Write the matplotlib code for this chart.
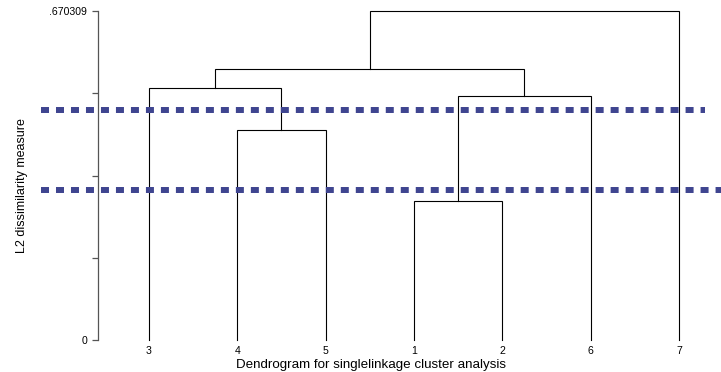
import matplotlib
matplotlib.use("Agg")
import matplotlib.pyplot as plt
import matplotlib.transforms as mtrans
from matplotlib.transforms import blended_transform_factory

plt.rcParams['font.family'] = ['Liberation Sans', 'DejaVu Sans']

# Leaf order as drawn
leaf_labels = ['3', '4', '5', '1', '2', '6', '7']
# Merges: (left node, right node, height); merge k is referred to as "m<k>"
merges = [
    ('4', '5', 0.4279),
    ('3', 'm0', 0.5134),
    ('1', '2', 0.2832),
    ('m2', '6', 0.4971),
    ('m1', 'm3', 0.5521),
    ('m4', '7', 0.670309),
]
cut_levels = [0.4686, 0.3056]
y_max = 0.670309

W, H = 721, 372
fig = plt.figure(figsize=(W / 100, H / 100), dpi=100)
ax = fig.add_axes([98 / W, 32 / H, (W - 98) / W, (340 - 11) / H])

pos = {lab: i + 1 for i, lab in enumerate(leaf_labels)}
hgt = {lab: 0.0 for lab in leaf_labels}
for k, (a, b, h) in enumerate(merges):
    xa, xb = pos[a], pos[b]
    ax.plot([xa, xa, xb, xb], [hgt[a], h, h, hgt[b]], color='black', lw=0.8,
            solid_joinstyle='miter', clip_on=False)
    name = 'm%d' % k
    pos[name] = (xa + xb) / 2
    hgt[name] = h

ax.set_xlim(1 - 51 / 88.33, 1 - 51 / 88.33 + 623 / 88.33)
ax.set_ylim(0, y_max)

# Cut lines (extend beyond the axes, x in figure pixels)
tr = blended_transform_factory(mtrans.Affine2D().scale(1 / W, 1) + fig.transFigure, ax.transData)
for lvl, xend in zip(cut_levels, [705, 724]):
    ax.plot([41, xend], [lvl, lvl], transform=tr, color='#3f4590', lw=4.3,
            dashes=(1.34, 1.17), clip_on=False, dash_capstyle='butt')

for s in ['top', 'right', 'bottom']:
    ax.spines[s].set_visible(False)
ax.spines['left'].set_color('#555555')
ax.spines['left'].set_linewidth(0.9)

yt = [i * y_max / 4 for i in range(5)]
ax.set_yticks(yt)
ax.set_yticklabels(['0', '', '', '', '.670309'], fontsize=7.6)
ax.tick_params(axis='y', length=4.3, width=0.9, color='#555555', pad=3.6)

ax.set_xticks(range(1, len(leaf_labels) + 1))
ax.set_xticklabels(leaf_labels, fontsize=7.6)
ax.tick_params(axis='x', length=0, pad=4)

fig.text(22 / W, 1 - 186 / H, 'L2 dissimilarity measure', rotation=90,
         ha='center', va='center', fontsize=9)
fig.text(371 / W, 1 - 368 / H, 'Dendrogram for singlelinkage cluster analysis',
         ha='center', va='baseline', fontsize=9.6)

fig.savefig('out.png', dpi=100)
